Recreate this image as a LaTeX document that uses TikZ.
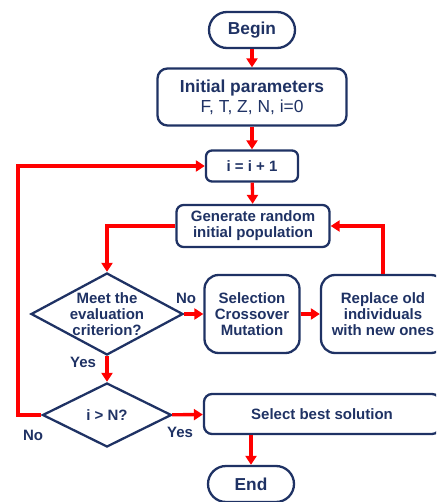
\documentclass[tikz,border=0pt]{standalone}
\usepackage{fontspec}
\setmainfont{Liberation Sans}
\usetikzlibrary{positioning, calc}
\usetikzlibrary{arrows.meta}
\usetikzlibrary{shapes}
\definecolor{navy}{RGB}{31,50,100}
\definecolor{flowred}{RGB}{255,0,0}

\begin{document}
\begin{tikzpicture}[->,>={Triangle[length=9pt,width=11pt]},draw=flowred,line width=3.3pt,x=1pt,y=-1pt]
	\def \midcol{252}
	\tikzstyle{t-node}=[rectangle,rounded corners=18pt,draw=navy,line width=2.3pt,text=navy,font=\fontsize{17.3}{19}\selectfont\bfseries,minimum width=86pt,minimum height=36pt]
	\tikzstyle{p-node}=[rectangle,rounded corners=8pt,draw=navy,line width=2.3pt,text=navy,align=center,font=\fontsize{15}{16}\selectfont\bfseries,inner sep=0pt]
	\tikzstyle{d-node}=[diamond,draw=navy,line width=2.3pt,text=navy,align=center,font=\fontsize{15}{16}\selectfont\bfseries,inner sep=-12pt]
	\tikzstyle{annot}=[text=navy,font=\fontsize{15}{16}\selectfont\bfseries]
	\useasboundingbox (0,0) rectangle (436,502);
	\clip (0,0) rectangle (436,502);

	% main column
	\node[t-node]	(begin)	at (\midcol,30)	{Begin};
	\node[p-node,minimum width=189pt,minimum height=57pt,rounded corners=10pt,font=\fontsize{17.4}{20}\selectfont\bfseries]	(init)	at (\midcol,97)	{Initial parameters\\{\mdseries F, T, Z, N, i=0}};
	\node[p-node,minimum width=92pt,minimum height=31pt,rounded corners=6pt]	(inc)	at (\midcol,166)	{i = i + 1};
	\node[p-node,minimum width=153pt,minimum height=42pt,rounded corners=7pt]	(gen)	at (253,226)	{Generate random\\initial population};

	% evolution row
	\node[d-node,minimum width=152pt,minimum height=82pt]	(eval)	at (107,314)	{Meet the\\evaluation\\criterion?};
	\node[p-node,minimum width=95pt,minimum height=78pt,rounded corners=14pt]	(sel)	at (\midcol,314)	{Selection\\Crossover\\Mutation};
	\node[p-node,minimum width=124pt,minimum height=78pt,rounded corners=14pt]	(repl)	at (383,314)	{Replace old\\individuals\\with new ones};

	% stop test
	\node[d-node,minimum width=129pt,minimum height=64pt]	(check)	at (107,415)	{i > N?};
	\node[p-node,minimum width=236pt,minimum height=40pt]	(best)	at (322,414)	{Select best solution};
	\node[t-node]	(end)	at (251,484)	{End};
	\coordinate	(loop)	at (18,166);

	% labels
	\node[annot]	(eval-no)	at (186,298)	{No};
	\node[annot]	(eval-yes)	at (83,362)	{Yes};
	\node[annot]	(check-yes)	at (180,432)	{Yes};
	\node[annot]	(check-no)	at (33,435)	{No};

	\draw (begin) -- (init);
	\draw (init) -- (inc);
	\draw (inc) -- (gen);
	\draw (gen.west) -| (eval.north);
	\draw (eval) -- (sel);
	\draw (sel) -- (repl);
	\draw (repl.north) |- (gen.east);
	\draw (eval) -- (check);
	\draw (check) -- (best);
	\draw (check.west) -| (loop) -- (inc.west);
	\draw (end.north |- best.south) -- (end);
\end{tikzpicture}
\end{document}
